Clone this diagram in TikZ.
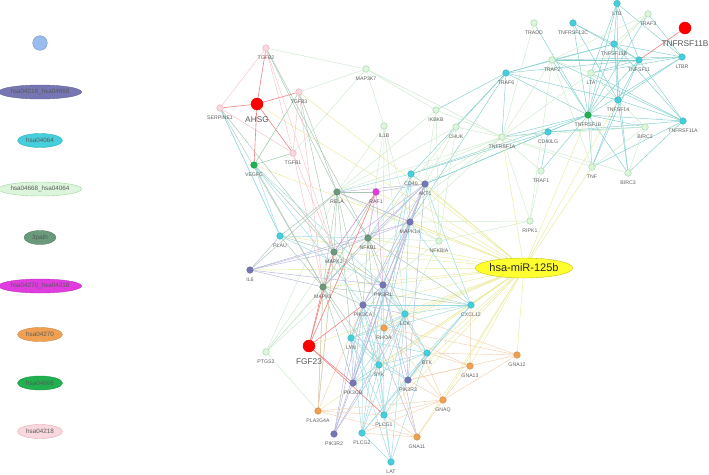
\documentclass[tikz,border=0pt]{standalone}
\usepackage{fontspec}
\setmainfont{Liberation Sans}
\usetikzlibrary{backgrounds,shapes.geometric}
\definecolor{cCyan}{HTML}{45CFDC}
\definecolor{cPurple}{HTML}{7676B4}
\definecolor{cPale}{HTML}{DDF5DD}
\definecolor{cPaleD}{HTML}{9CD49C}
\definecolor{cThree}{HTML}{6B9A7B}
\definecolor{cMag}{HTML}{E03CE0}
\definecolor{cOrange}{HTML}{F0A050}
\definecolor{cGreen}{HTML}{20B050}
\definecolor{cPink}{HTML}{F8D8DE}
\definecolor{cPinkD}{HTML}{E8AAB4}
\definecolor{cRed}{HTML}{FF0000}
\definecolor{cBlue}{HTML}{99BBEE}
\definecolor{cYellow}{HTML}{FFFF30}
\definecolor{labc}{HTML}{606060}
\definecolor{eRc}{HTML}{F08080}
\definecolor{ePc}{HTML}{F4C2CA}
\definecolor{eYc}{HTML}{EAEA9E}
\definecolor{eCc}{HTML}{9ADAE2}
\definecolor{eTc}{HTML}{82CECC}
\definecolor{eLc}{HTML}{CCEACC}
\definecolor{eGc}{HTML}{A8C6B2}
\definecolor{eVc}{HTML}{B6B6DC}
\definecolor{eOc}{HTML}{F4D0AE}
\definecolor{eMc}{HTML}{DC9CDC}
\definecolor{eGrc}{HTML}{80CC9C}
\tikzset{
  nd/.style={circle, inner sep=0pt, minimum size=6.6pt, line width=0.4pt},
  ncy/.style={nd, fill=cCyan, draw=cCyan!85!black},
  npu/.style={nd, fill=cPurple, draw=cPurple!85!black},
  npa/.style={nd, fill=cPale, draw=cPaleD},
  nth/.style={nd, fill=cThree, draw=cThree!85!black},
  nma/.style={nd, fill=cMag, draw=cMag!85!black},
  nor/.style={nd, fill=cOrange, draw=cOrange!85!black},
  ngr/.style={nd, fill=cGreen, draw=cGreen!85!black},
  npk/.style={nd, fill=cPink, draw=cPinkD},
  nred/.style={circle, inner sep=0pt, minimum size=12pt, fill=cRed, draw=cRed!85!black, line width=0.4pt},
  biglab/.style={label distance=6.4pt, font=\fontsize{8.3}{9}\selectfont, text=labc!90!black},
  every label/.style={font=\fontsize{5.2}{6}\selectfont, text=labc, inner sep=0pt},
  label distance=4.6pt,
  legE/.style={ellipse, inner sep=0pt, minimum height=14pt, line width=0.4pt, font=\fontsize{6.3}{7}\selectfont, text=black!65},
  eR/.style={draw=eRc, line width=0.6pt},
  eP/.style={draw=ePc, line width=0.45pt},
  eY/.style={draw=eYc, line width=0.45pt},
  eC/.style={draw=eCc, line width=0.45pt},
  eT/.style={draw=eTc, line width=0.45pt},
  eL/.style={draw=eLc, line width=0.45pt},
  eG/.style={draw=eGc, line width=0.45pt},
  eV/.style={draw=eVc, line width=0.45pt},
  eO/.style={draw=eOc, line width=0.45pt},
  eM/.style={draw=eMc, line width=0.45pt},
  eGr/.style={draw=eGrc, line width=0.45pt},
}
\begin{document}
\begin{tikzpicture}[x=1pt,y=-1pt]
\useasboundingbox (0,0) rectangle (709,474);
% legend
\node[circle, minimum size=14.6pt, inner sep=0pt, fill=cBlue, draw=cBlue!80!black, line width=0.4pt] (leg0) at (40,43) {};
\node[legE, minimum width=79pt, fill=cPurple, draw=cPurple!85!black] (leg1) at (40,92) {hsa04218\_hsa04668};
\node[legE, minimum width=45pt, fill=cCyan, draw=cCyan!85!black] (leg2) at (40,140.5) {hsa04064};
\node[legE, minimum width=79pt, fill=cPale, draw=cPaleD] (leg3) at (40,189) {hsa04668\_hsa04064};
\node[legE, minimum width=32pt, fill=cThree, draw=cThree!85!black] (leg4) at (40,237.5) {3path};
\node[legE, minimum width=79pt, fill=cMag, draw=cMag!85!black] (leg5) at (40,286) {hsa04270\_hsa04218};
\node[legE, minimum width=45pt, fill=cOrange, draw=cOrange!85!black] (leg6) at (40,334.5) {hsa04270};
\node[legE, minimum width=45pt, fill=cGreen, draw=cGreen!85!black] (leg7) at (40,383) {hsa04668};
\node[legE, minimum width=45pt, fill=cPink, draw=cPinkD] (leg8) at (40,431.5) {hsa04218};
% nodes
\node[npk, label=below:TGFB2] (TGFB2) at (266,48) {};
\node[npa, label=below:MAP3K7] (MAP3K7) at (366,69) {};
\node[npk, label=below:TGFB3] (TGFB3) at (299,92) {};
\node[nred, label={[biglab]below:AHSG}] (AHSG) at (257,104) {};
\node[npk, label=below:SERPINE1] (SERPINE1) at (220,108) {};
\node[npa, label=below:IL1B] (IL1B) at (384,126) {};
\node[npk, label=below:TGFB1] (TGFB1) at (293,153) {};
\node[ngr, label=below:VEGFC] (VEGFC) at (254,165) {};
\node[ncy, label=below:CD40] (CD40) at (411,174) {};
\node[npu, label=below:AKT1] (AKT1) at (425,184) {};
\node[nth, label=below:RELA] (RELA) at (337,192) {};
\node[nma, label=below:RAF1] (RAF1) at (376,192) {};
\node[npu, label=below:MAPK14] (MAPK14) at (410,222) {};
\node[npa, label=below:NFKBIA] (NFKBIA) at (439,241) {};
\node[ncy, label=below:PLAU] (PLAU) at (280,236) {};
\node[nth, label=below:NFKB1] (NFKB1) at (368,238) {};
\node[nth, label=below:MAPK3] (MAPK3) at (334,252) {};
\node[npu, label=below:IL6] (IL6) at (250,270) {};
\node[nth, label=below:MAPK1] (MAPK1) at (323,287) {};
\node[npu, label=below:PIK3R1] (PIK3R1) at (383,285) {};
\node[npu, label=below:PIK3CA] (PIK3CA) at (363,305) {};
\node[ncy, label=below:LCK] (LCK) at (405,314) {};
\node[nor, label=below:RHOA] (RHOA) at (384,328) {};
\node[ncy, label=below:LYN] (LYN) at (351,338) {};
\node[nred, label={[biglab]below:FGF23}] (FGF23) at (309,346) {};
\node[npa, label=below:PTGS2] (PTGS2) at (266,352) {};
\node[ncy, label=below:BTK] (BTK) at (427,353) {};
\node[ncy, label=below:SYK] (SYK) at (379,365) {};
\node[npu, label=below:PIK3CB] (PIK3CB) at (353,383) {};
\node[npu, label=below:PIK3R3] (PIK3R3) at (408,380) {};
\node[nor, label=below:GNAQ] (GNAQ) at (443,400) {};
\node[nor, label=below:PLA2G4A] (PLA2G4A) at (318,411) {};
\node[ncy, label=below:PLCG1] (PLCG1) at (384,415) {};
\node[npu, label=below:PIK3R2] (PIK3R2) at (334,434) {};
\node[ncy, label=below:PLCG2] (PLCG2) at (362,433) {};
\node[nor, label=below:GNA11] (GNA11) at (417,437) {};
\node[ncy, label=below:LAT] (LAT) at (391,462) {};
\node[nor, label=below:GNA13] (GNA13) at (470,366) {};
\node[nor, label=below:GNA12] (GNA12) at (517,355) {};
\node[ncy, label=below:CXCL12] (CXCL12) at (471,305) {};
\node[ellipse, inner sep=0pt, minimum width=92pt, minimum height=20pt, fill=cYellow, draw=cYellow!75!black, line width=0.4pt, font=\fontsize{11}{12}\selectfont, text=black!85] (miR) at (524,268) {hsa-miR-125b};
\node[npa, label=below:RIPK1] (RIPK1) at (530,221) {};
\node[npa, label=below:TRAF1] (TRAF1) at (541,171) {};
\node[npa, label=below:TNF] (TNF) at (592,167) {};
\node[npa, label=below:BIRC3] (BIRC3) at (628,173) {};
\node[npa, label=below:TNFRSF1A] (TNFRSF1A) at (502,137) {};
\node[ncy, label=below:CD40LG] (CD40LG) at (548,132) {};
\node[npa, label=below:CHUK] (CHUK) at (456,127) {};
\node[npa, label=below:IKBKB] (IKBKB) at (436,110) {};
\node[npa, label=below:BIRC2] (BIRC2) at (645,127) {};
\node[ncy, label=below:TNFRSF11A] (TNFRSF11A) at (683,121) {};
\node[ngr, label=below:TNFRSF1B] (TNFRSF1B) at (588,115) {};
\node[ncy, label=below:TNFSF14] (TNFSF14) at (618,100) {};
\node[ncy, label=below:TRAF6] (TRAF6) at (506,73) {};
\node[npa, label=below:LTA] (LTA) at (591,73) {};
\node[npa, label=below:TRAF2] (TRAF2) at (552,60) {};
\node[ncy, label=below:TNFSF11] (TNFSF11) at (639,60) {};
\node[ncy, label=below:LTBR] (LTBR) at (682,57) {};
\node[ncy, label=below:TNFSF13B] (TNFSF13B) at (614,44) {};
\node[npa, label=below:TRADD] (TRADD) at (534,23) {};
\node[ncy, label=below:TNFRSF13C] (TNFRSF13C) at (573,23) {};
\node[npa, label=below:TRAF3] (TRAF3) at (648,14) {};
\node[ncy, label=below:LTB] (LTB) at (617,3.5) {};
\node[nred, label={[biglab]below:TNFRSF11B}] (TNFRSF11B) at (685,28) {};
% edges
\begin{pgfonlayer}{background}
\foreach \a/\b in {LTB/TNFSF13B, LTB/TNFSF11, LTB/TNFSF14, LTB/TNFRSF1B, LTB/LTA, LTB/LTBR,
 TNFRSF13C/TNFSF13B, TNFRSF13C/TNFSF11, TNFRSF13C/TNFRSF1B, TNFRSF13C/TNFSF14,
 TNFSF13B/TRAF6, TNFSF13B/TNFSF11, TNFSF13B/TNFSF14, TNFSF13B/LTBR, TNFSF13B/TNFRSF1B, TNFSF13B/TNFRSF11A, TNFSF13B/BIRC3, TNFSF13B/TRAF2,
 TNFSF11/TRAF6, TNFSF11/TNFRSF1B, TNFSF11/TNFSF14, TNFSF11/LTBR, TNFSF11/TNFRSF11A, TNFSF11/TRAF2, TNFSF11/LTA, TNFSF11/TNF,
 TNFSF14/TNFRSF11A, TNFSF14/BIRC3, TNFSF14/TNF, TNFSF14/TRAF6, TNFSF14/LTBR,
 TNFRSF1B/TNFRSF11A, TNFRSF1B/LTBR, TNFRSF1B/TRAF6, TNFRSF1B/CD40LG, TNFRSF1B/BIRC2, TNFRSF1B/BIRC3, TNFRSF1B/TNF, TNFRSF1B/TRAF1, TNFRSF1B/TNFRSF1A, TNFRSF1B/TRADD, TNFRSF1B/TRAF2, TNFRSF1B/LTA, TNFRSF1B/TRAF3, TNFRSF1B/AKT1, TNFRSF1B/CD40,
 TRAF6/TRAF2, TRAF6/CD40, TRAF6/MAPK14, TRAF6/CHUK, TRAF6/TNFRSF1A, TRAF6/IKBKB,
 CD40LG/CD40, CD40LG/AKT1, CD40LG/TRAF1, CD40LG/TNFRSF1A, CD40LG/TNFRSF11A, CD40LG/BIRC2,
 TNFRSF11A/TRAF2, TNFRSF11A/TNF, TNFRSF11A/BIRC3, TNFRSF11A/LTA, LTBR/TRAF3, LTBR/TRAF2, LTBR/LTA}
 \draw[eT] (\a) -- (\b);
\foreach \a/\b in {TRAF2/TRAF3, TRAF2/TNFRSF1A, TRAF2/RIPK1, TRAF2/LTA, TRADD/TNFRSF1A, TRAF3/LTA, TRAF3/TNFSF13B,
 LTA/TNFRSF1A, LTA/BIRC2, LTA/TNF,
 TNFRSF1A/CHUK, TNFRSF1A/IKBKB, TNFRSF1A/RIPK1, TNFRSF1A/TRAF1, TNFRSF1A/BIRC3, TNFRSF1A/BIRC2, TNFRSF1A/TNF, TNFRSF1A/MAP3K7, TNFRSF1A/RELA, TNFRSF1A/NFKB1, TNFRSF1A/AKT1, TNFRSF1A/MAPK14, TNFRSF1A/CD40,
 TNF/TRAF2, TNF/BIRC2, BIRC3/BIRC2, TRAF1/RIPK1, RIPK1/MAPK14, RIPK1/NFKBIA,
 IKBKB/AKT1, IKBKB/NFKBIA, IKBKB/RELA, IKBKB/MAP3K7, CHUK/AKT1, CHUK/NFKBIA, CHUK/RELA, CHUK/NFKB1,
 MAP3K7/TGFB2, MAP3K7/TGFB3, MAP3K7/IL1B, MAP3K7/TGFB1,
 IL1B/MAPK14, IL1B/PIK3R1, IL1B/NFKB1, IL1B/RELA, IL1B/LCK,
 NFKBIA/MAPK14, NFKBIA/AKT1, NFKBIA/RELA, NFKBIA/NFKB1, NFKBIA/LCK, NFKBIA/PIK3R1,
 PTGS2/MAPK1, PTGS2/MAPK3, PTGS2/NFKB1, PTGS2/RELA, PTGS2/PLA2G4A, PTGS2/MAPK14}
 \draw[eL] (\a) -- (\b);
\foreach \b in {AHSG, TGFB3, TNFRSF1A, TNFRSF1B, TNFSF14, TNF, AKT1, MAPK14, RAF1, RELA, NFKB1, MAPK3, MAPK1, PIK3R1, PIK3CA, LCK, RHOA, LYN, FGF23, BTK, SYK, PIK3CB, PIK3R3, GNAQ, GNA11, GNA13, GNA12, PLCG1, PLA2G4A, IL6, CD40, CXCL12, PLAU, VEGFC}
 \draw[eY] (miR) -- (\b);
\foreach \a/\b in {RELA/NFKB1, RELA/MAPK1, RELA/MAPK3, RELA/TGFB2, RELA/PLAU, RELA/IL6, RELA/PIK3CA, RELA/LYN, RELA/RAF1, RELA/TGFB3,
 NFKB1/MAPK1, NFKB1/MAPK3, NFKB1/PIK3R1, NFKB1/PIK3CA, NFKB1/CXCL12, NFKB1/TGFB2, NFKB1/SYK, NFKB1/LCK,
 MAPK3/MAPK1, MAPK3/RAF1, MAPK3/PLA2G4A, MAPK3/VEGFC, MAPK3/TGFB3, MAPK3/PIK3R1, MAPK3/LCK, MAPK3/SYK, MAPK3/PLAU, MAPK3/SERPINE1,
 MAPK1/RAF1, MAPK1/PLA2G4A, MAPK1/VEGFC, MAPK1/PIK3CA, MAPK1/LYN, MAPK1/SYK, MAPK1/PIK3CB, MAPK1/PLAU, MAPK1/CXCL12, MAPK1/SERPINE1}
 \draw[eG] (\a) -- (\b);
\foreach \a/\b in {PIK3R1/PIK3CA, PIK3R1/AKT1, PIK3CA/AKT1, PIK3CB/AKT1, PIK3R3/AKT1, PIK3R2/AKT1, PIK3R1/MAPK14, IL6/MAPK14, IL6/MAPK3, IL6/MAPK1, IL6/NFKB1, IL6/PIK3R1, IL6/PLAU,
 MAPK14/PIK3CA, MAPK14/RHOA, MAPK14/PIK3CB, MAPK14/AKT1, MAPK14/NFKB1, MAPK14/RELA,
 AKT1/RAF1, AKT1/RELA, AKT1/NFKB1, AKT1/MAPK1, AKT1/MAPK3,
 PIK3R2/LYN, PIK3R2/LCK, PIK3R2/SYK, PIK3R2/PIK3R1, PIK3R2/PIK3CA,
 PIK3R3/LCK, PIK3R3/BTK, PIK3R3/PIK3R1, PIK3CB/PIK3R1, PIK3CB/PIK3CA, PIK3CB/LYN, PIK3CA/LCK, PIK3CA/LYN, PIK3R1/GNA11, PIK3CA/GNA11}
 \draw[eV] (\a) -- (\b);
\foreach \a/\b in {CD40/AKT1, CD40/PIK3R1, CD40/LCK, CD40/SYK, CD40/NFKB1, CD40/RELA,
 PLAU/SERPINE1, PLAU/VEGFC, PLAU/NFKB1, PLAU/PIK3R1,
 LCK/LYN, LCK/SYK, LCK/BTK, LCK/PLCG1, LCK/PLCG2, LCK/LAT, LCK/PIK3R1, LCK/PIK3CB, LCK/RHOA,
 LYN/SYK, LYN/BTK, LYN/PLCG1, LYN/PLCG2, LYN/PIK3R1, LYN/PIK3R3, LYN/LAT, LYN/PIK3CA,
 SYK/BTK, SYK/PLCG1, SYK/PLCG2, SYK/LAT, SYK/PIK3R3, SYK/PIK3CB, SYK/PIK3R1, SYK/PIK3CA,
 BTK/PLCG2, BTK/PLCG1, BTK/PIK3R1, BTK/PIK3CB, BTK/PIK3CA, BTK/LAT,
 PLCG1/LAT, PLCG2/LAT, PLCG1/PIK3R1, PLCG2/PIK3R1, PLCG1/PIK3CA, PLCG2/PIK3CA,
 CXCL12/PIK3R1, CXCL12/PIK3CA, CXCL12/LCK, CXCL12/PIK3R3, CXCL12/AKT1, CXCL12/MAPK14, CXCL12/PLCG2, CXCL12/LYN, CXCL12/BTK,
 VEGFC/PIK3CA, VEGFC/PIK3R1, SERPINE1/PLAU}
 \draw[eC] (\a) -- (\b);
\foreach \a/\b in {GNAQ/PLCG1, GNAQ/PLCG2, GNAQ/RHOA, GNAQ/PLA2G4A, GNAQ/LCK, GNAQ/PIK3R3, GNAQ/GNA13, GNAQ/GNA11,
 GNA11/PLCG1, GNA11/PLA2G4A, GNA11/RHOA, GNA11/PLCG2,
 GNA13/RHOA, GNA13/BTK, GNA13/PIK3R3, GNA13/CXCL12,
 GNA12/RHOA, GNA12/LCK, GNA12/BTK, GNA12/GNAQ, GNA12/PIK3R3,
 PLA2G4A/MAPK1, PLA2G4A/MAPK3, PLA2G4A/PLCG1, PLA2G4A/PIK3CA, RHOA/PIK3R1}
 \draw[eO] (\a) -- (\b);
\foreach \a/\b in {TGFB2/TGFB1, TGFB3/TGFB1, TGFB2/SERPINE1, SERPINE1/TGFB1, TGFB1/MAPK1, TGFB1/MAPK3, TGFB2/MAPK3, TGFB3/MAPK1}
 \draw[eP] (\a) -- (\b);
\foreach \a/\b in {RAF1/NFKB1, RAF1/MAPK3, RAF1/PIK3R1}
 \draw[eM] (\a) -- (\b);
\foreach \a/\b in {VEGFC/TGFB3, VEGFC/TGFB1}
 \draw[eGr] (\a) -- (\b);
\foreach \a/\b in {AHSG/TGFB2, AHSG/TGFB3, AHSG/SERPINE1, AHSG/VEGFC, AHSG/TGFB1, TNFRSF11B/TNFSF11,
 FGF23/MAPK1, FGF23/MAPK3, FGF23/RAF1, FGF23/PIK3CA, FGF23/PIK3CB, FGF23/PLCG1}
 \draw[eR] (\a) -- (\b);
\end{pgfonlayer}
\end{tikzpicture}
\end{document}
